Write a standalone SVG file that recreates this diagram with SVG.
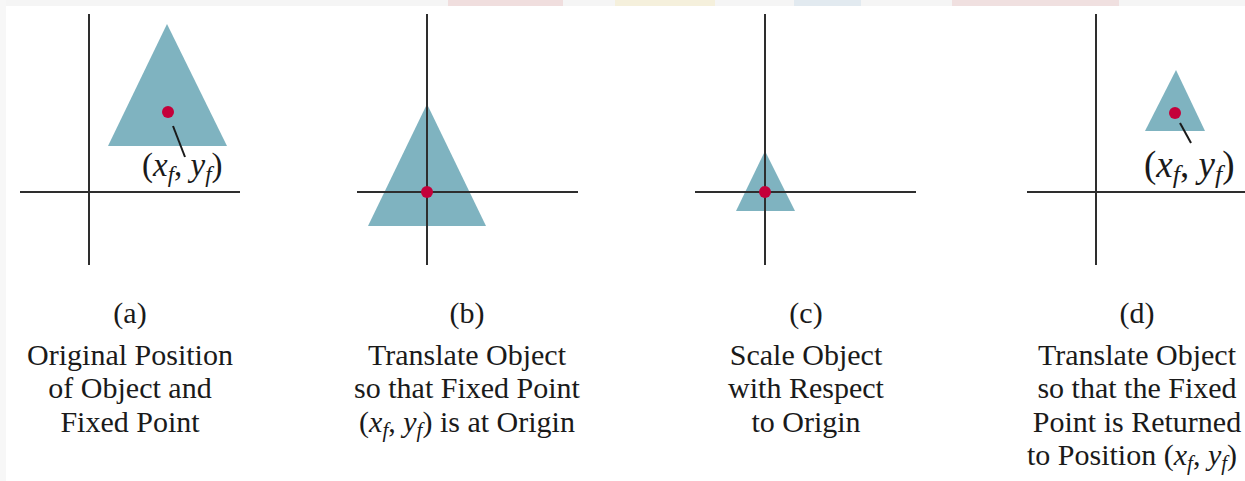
<svg xmlns="http://www.w3.org/2000/svg" width="1245" height="481" viewBox="0 0 1245 481">
<style>
.axis{stroke:#2e2e2e;stroke-width:2;fill:none}
.tri{fill:#7fb3c0}
.dot{fill:#c4003a}
.lead{stroke:#1a1a1a;stroke-width:2}
.cap{font-family:"Liberation Serif","Times New Roman",serif;font-size:30px;fill:#1a1a1a;text-anchor:middle}
.capl{font-family:"Liberation Serif","Times New Roman",serif;font-size:30px;fill:#1a1a1a;text-anchor:start}
.lbl{font-family:"Liberation Serif","Times New Roman",serif;fill:#1a1a1a}
.it{font-style:italic}
</style>
<rect width="1245" height="481" fill="#ffffff"/>
<rect x="0" y="0" width="1245" height="6" fill="#f5f5f5"/>
<rect x="0" y="0" width="6" height="481" fill="#f7f7f7"/>
<rect x="448" y="0" width="115" height="6" fill="#f0dede"/>
<rect x="615" y="0" width="100" height="6" fill="#f5f0dc"/>
<rect x="794" y="0" width="67" height="6" fill="#e2eaf0"/>
<rect x="952" y="0" width="167" height="6" fill="#f0e0e0"/>

<g id="panel-a">
  <polygon class="tri" points="167,24 108,146 227,146"/>
  <line class="axis" x1="89" y1="14" x2="89" y2="265"/>
  <line class="axis" x1="20" y1="192" x2="240" y2="192"/>
  <circle class="dot" cx="168" cy="112" r="6"/>
  <line class="lead" x1="173" y1="126" x2="185" y2="157"/>
  <text class="lbl" x="142" y="176" font-size="33">(<tspan class="it">x</tspan><tspan class="it" font-size="23" dy="6">f</tspan><tspan dy="-6">, </tspan><tspan class="it">y</tspan><tspan class="it" font-size="23" dy="6">f</tspan><tspan dy="-6">)</tspan></text>
  <text class="cap" x="130" y="323">(a)</text>
  <text class="cap" x="130" y="365">Original Position</text>
  <text class="cap" x="130" y="398">of Object and</text>
  <text class="cap" x="130" y="432">Fixed Point</text>
</g>

<g id="panel-b">
  <polygon class="tri" points="427,104 368,226 486,226"/>
  <line class="axis" x1="427" y1="14" x2="427" y2="265"/>
  <line class="axis" x1="357" y1="192" x2="578" y2="192"/>
  <circle class="dot" cx="427" cy="192" r="6"/>
  <text class="cap" x="467" y="323">(b)</text>
  <text class="cap" x="467" y="365">Translate Object</text>
  <text class="cap" x="467" y="398">so that Fixed Point</text>
  <text class="cap" x="467" y="432">(<tspan class="it">x</tspan><tspan class="it" font-size="21" dy="5">f</tspan><tspan dy="-5">, </tspan><tspan class="it">y</tspan><tspan class="it" font-size="21" dy="5">f</tspan><tspan dy="-5">) is at Origin</tspan></text>
</g>

<g id="panel-c">
  <polygon class="tri" points="765,151 736,211 795,211"/>
  <line class="axis" x1="765" y1="14" x2="765" y2="265"/>
  <line class="axis" x1="695" y1="192" x2="916" y2="192"/>
  <circle class="dot" cx="765" cy="192" r="6"/>
  <text class="cap" x="806" y="323">(c)</text>
  <text class="cap" x="806" y="365">Scale Object</text>
  <text class="cap" x="806" y="398">with Respect</text>
  <text class="cap" x="806" y="432">to Origin</text>
</g>

<g id="panel-d">
  <polygon class="tri" points="1176,70 1145,131 1205,131"/>
  <line class="axis" x1="1096" y1="14" x2="1096" y2="265"/>
  <line class="axis" x1="1027" y1="192" x2="1245" y2="192"/>
  <circle class="dot" cx="1175" cy="113" r="6"/>
  <line class="lead" x1="1180" y1="123" x2="1191" y2="143"/>
  <text class="lbl" x="1144" y="177" font-size="37">(<tspan class="it">x</tspan><tspan class="it" font-size="26" dy="6">f</tspan><tspan dy="-6">, </tspan><tspan class="it">y</tspan><tspan class="it" font-size="26" dy="6">f</tspan><tspan dy="-6">)</tspan></text>
  <text class="cap" x="1137" y="323">(d)</text>
  <text class="cap" x="1137" y="365">Translate Object</text>
  <text class="cap" x="1137" y="398">so that the Fixed</text>
  <text class="cap" x="1137" y="432">Point is Returned</text>
  <text class="capl" x="1027" y="465">to Position (<tspan class="it">x</tspan><tspan class="it" font-size="21" dy="5">f</tspan><tspan dy="-5">, </tspan><tspan class="it">y</tspan><tspan class="it" font-size="21" dy="5">f</tspan><tspan dy="-5">)</tspan></text>
</g>
</svg>
